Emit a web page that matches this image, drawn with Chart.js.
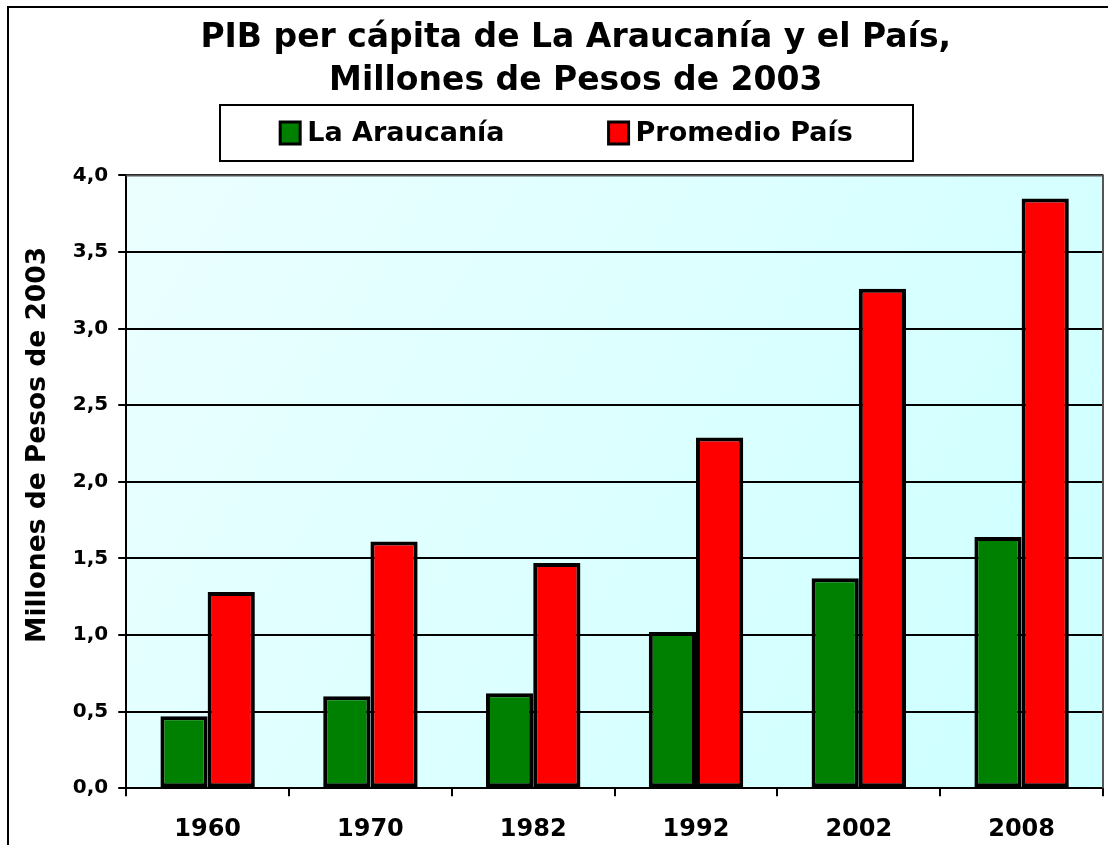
<!DOCTYPE html>
<html lang="es">
<head>
  <meta charset="UTF-8" />
  <title>PIB per cápita de La Araucanía y el País</title>
  <script src="https://cdn.jsdelivr.net/npm/chart.js"></script>
  <style>
    html, body {
      margin: 0;
      padding: 0;
      background: #fff;
      overflow: hidden;
    }
    /* the chart is a bit wider/taller than the window, like the cropped original */
    #wrap {
      position: relative;
      width: 1150px;
      height: 870px;
    }
  </style>
</head>
<body>
  <div id="wrap"><canvas id="pibChart"></canvas></div>

  <script>
    // ------------------ Data ------------------
    const years = ['1960', '1970', '1982', '1992', '2002', '2008'];
    const araucania = [0.47, 0.60, 0.62, 1.02, 1.37, 1.64];
    const promedioPais = [1.28, 1.61, 1.47, 2.29, 3.26, 3.85];
    const seriesNames = ['La Araucanía', 'Promedio País'];
    const seriesColors = ['#008000', '#ff0000'];
    const yTickLabels = ['0,0', '0,5', '1,0', '1,5', '2,0', '2,5', '3,0', '3,5', '4,0'];

    const FONT = "'DejaVu Sans', Verdana, sans-serif";
    const nbsp = n => '\u00a0'.repeat(n);

    // ------------------ Plugins ------------------
    // outer frame + gradient behind the plot area + plot border
    const frameAndBackground = {
      id: 'frameAndBackground',
      beforeDraw(chart) {
        const { ctx, chartArea: a } = chart;
        ctx.save();
        ctx.fillStyle = '#fff';
        ctx.fillRect(0, 0, chart.width, chart.height);
        ctx.strokeStyle = '#000';
        ctx.lineWidth = 2;
        ctx.strokeRect(8, 7, chart.width + 20, chart.height + 20);

        const g = ctx.createLinearGradient(a.left, a.top, a.right, a.bottom);
        g.addColorStop(0, '#ecffff');
        g.addColorStop(1, '#ccffff');
        ctx.fillStyle = g;
        ctx.fillRect(a.left, a.top, a.right - a.left, a.bottom - a.top);
        ctx.restore();
      },
      afterDraw(chart) {
        const { ctx, chartArea: a } = chart;
        ctx.save();
        ctx.strokeStyle = '#555';
        ctx.lineWidth = 2;
        ctx.beginPath();
        ctx.moveTo(a.left, a.top);
        ctx.lineTo(a.right, a.top);
        ctx.lineTo(a.right, a.bottom);
        ctx.stroke();
        ctx.restore();
      }
    };

    // boxed legend between the title and the plot
    const boxedLegend = {
      id: 'boxedLegend',
      afterDraw(chart, args, opts) {
        const { ctx } = chart;
        const font = 'bold ' + opts.fontSize + 'px ' + FONT;
        ctx.save();
        ctx.font = font;
        const items = chart.data.datasets.map(ds => ({
          text: ds.label,
          color: ds.backgroundColor,
          w: opts.swatchW + opts.gap + ctx.measureText(ds.label).width
        }));
        const total = items.reduce((s, it) => s + it.w, 0) + opts.itemSpacing * (items.length - 1);

        // frame
        ctx.fillStyle = '#fff';
        ctx.fillRect(opts.box.x, opts.box.y, opts.box.w, opts.box.h);
        ctx.strokeStyle = '#000';
        ctx.lineWidth = 2;
        ctx.strokeRect(opts.box.x, opts.box.y, opts.box.w, opts.box.h);

        const cy = opts.box.y + opts.box.h / 2;
        let x = opts.box.x + opts.box.w / 2 - total / 2;
        items.forEach(it => {
          ctx.fillStyle = it.color;
          ctx.fillRect(x, cy - opts.swatchH / 2, opts.swatchW, opts.swatchH);
          ctx.lineWidth = 3;
          ctx.strokeRect(x, cy - opts.swatchH / 2, opts.swatchW, opts.swatchH);
          ctx.fillStyle = '#000';
          ctx.textBaseline = 'middle';
          ctx.textAlign = 'left';
          ctx.fillText(it.text, x + opts.swatchW + opts.gap, cy + 1);
          x += it.w + opts.itemSpacing;
        });
        ctx.restore();
      }
    };

    // ------------------ Chart ------------------
    const ctx = document.getElementById('pibChart').getContext('2d');
    const chart = new Chart(ctx, {
      type: 'bar',
      data: {
        labels: years,
        datasets: [
          { label: seriesNames[0], data: araucania, backgroundColor: seriesColors[0] },
          { label: seriesNames[1], data: promedioPais, backgroundColor: seriesColors[1] }
        ]
      },
      options: {
        responsive: true,
        maintainAspectRatio: false,
        animation: false,
        devicePixelRatio: 1,
        layout: { padding: { top: 0, left: 14, right: 47, bottom: 7 } },
        datasets: {
          bar: {
            borderColor: '#000',
            borderWidth: 4,
            borderSkipped: false,
            barPercentage: 1.0,
            categoryPercentage: 0.58
          }
        },
        plugins: {
          legend: { display: false },
          tooltip: { enabled: false },
          title: {
            display: true,
            // leading spaces nudge the centred title to the right, like the original
            text: [nbsp(3) + 'PIB per cápita de La Araucanía y el País,', nbsp(3) + 'Millones de Pesos de 2003'],
            color: '#000',
            font: { family: FONT, size: 33, weight: 'bold', lineHeight: 1.31 },
            padding: { top: 17, bottom: 72 }
          },
          boxedLegend: {
            box: { x: 220, y: 105, w: 693, h: 56 },
            fontSize: 27,
            swatchW: 20,
            swatchH: 22,
            gap: 7,
            itemSpacing: 104
          }
        },
        scales: {
          x: {
            offset: true,
            grid: {
              offset: true,
              drawOnChartArea: false,
              drawTicks: true,
              tickLength: 8,
              color: '#000',
              lineWidth: 2
            },
            border: { display: true, color: '#000', width: 2 },
            ticks: {
              color: '#000',
              padding: 19,
              font: { family: FONT, size: 24, weight: 'bold' }
            }
          },
          y: {
            min: 0,
            max: 4,
            ticks: {
              stepSize: 0.5,
              color: '#000',
              padding: 10,
              font: { family: FONT, size: 20, weight: 'bold' },
              callback: (v, i) => yTickLabels[i]
            },
            grid: {
              color: '#000',
              lineWidth: 2,
              tickLength: 8
            },
            border: { display: true, color: '#000', width: 2 },
            title: {
              display: true,
              // leading spaces move the rotated title up a little
              text: nbsp(8) + 'Millones de Pesos de 2003',
              color: '#000',
              font: { family: FONT, size: 26.5, weight: 'bold', lineHeight: 1.2 },
              padding: { top: 8, bottom: 9 }
            }
          }
        }
      },
      plugins: [frameAndBackground, boxedLegend]
    });
  </script>
</body>
</html>
